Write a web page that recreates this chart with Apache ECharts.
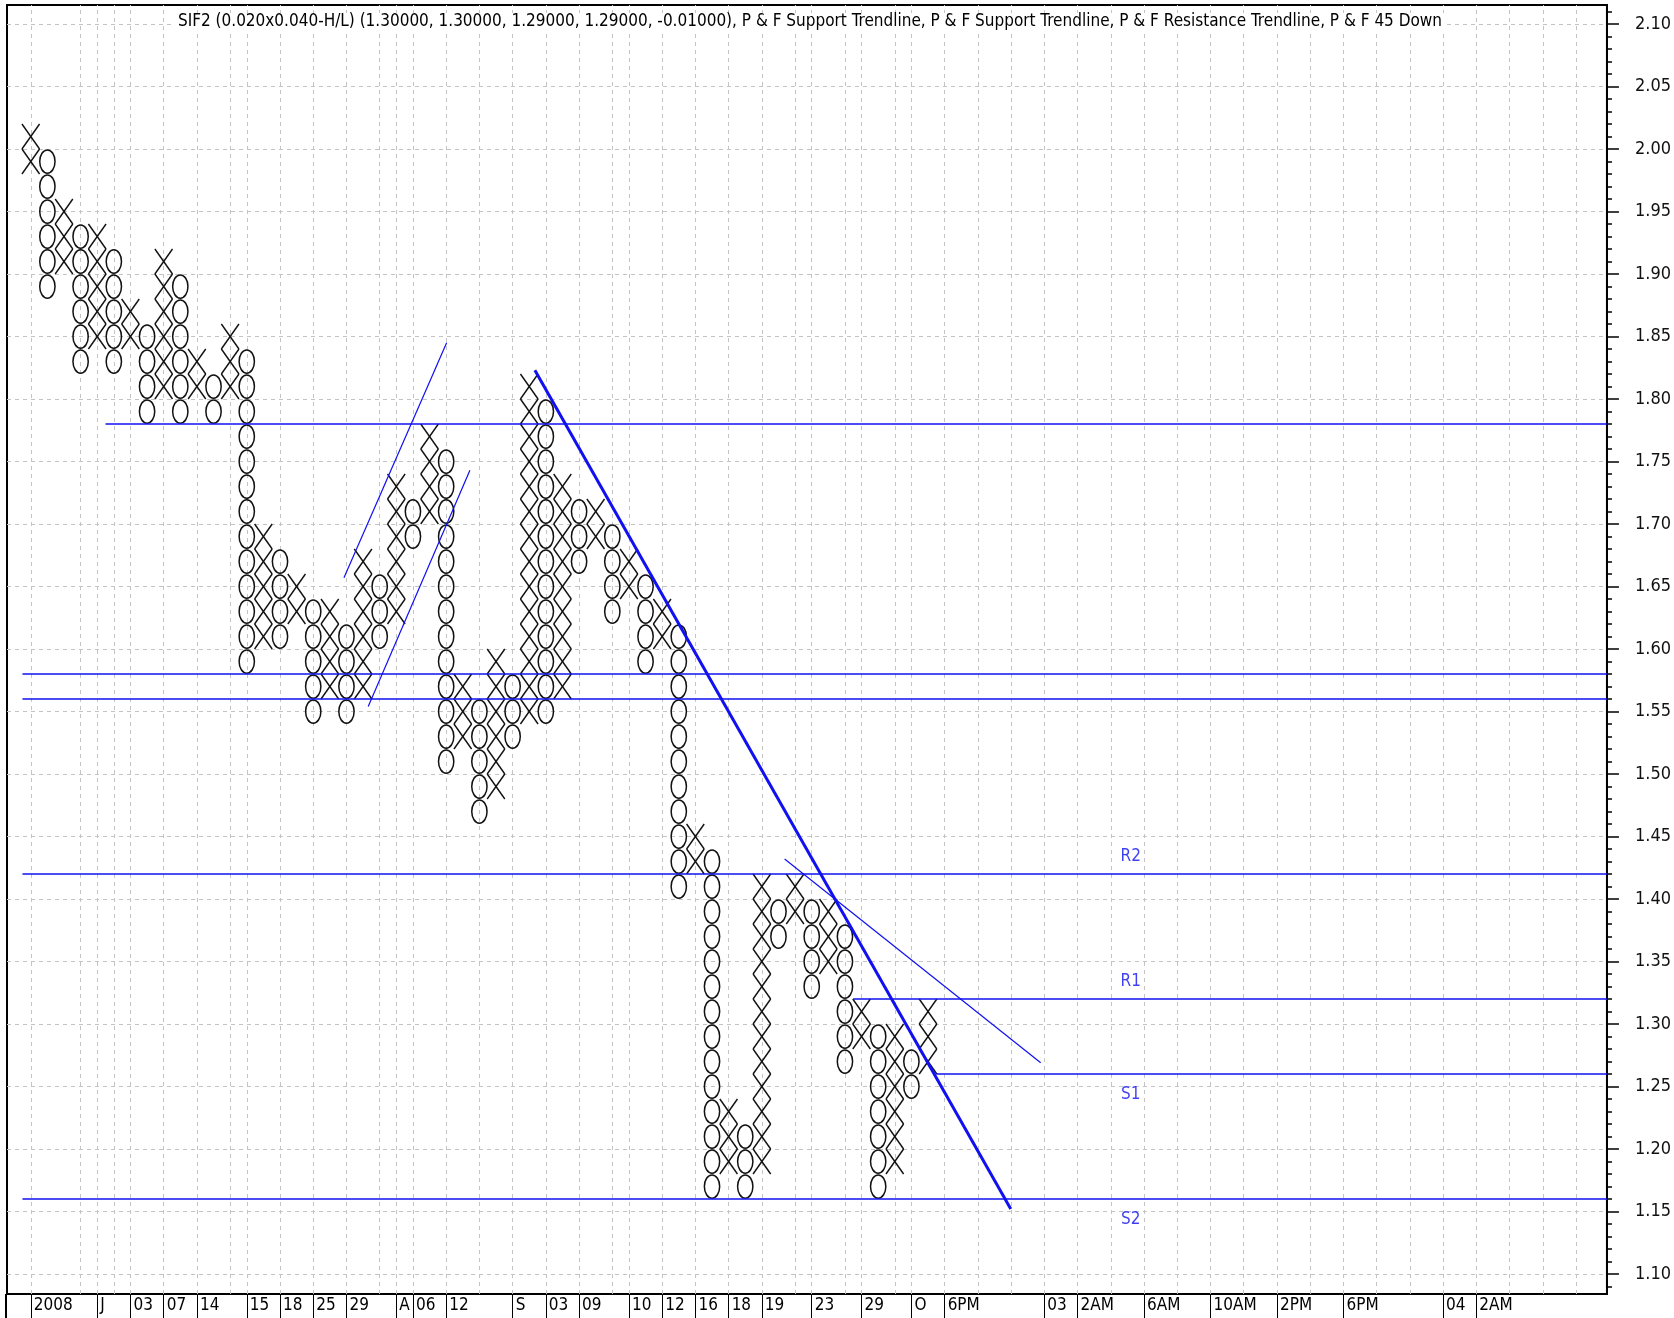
<!DOCTYPE html>
<html>
<head>
<meta charset="utf-8">
<title>SIF2 P&amp;F</title>
<script src="https://cdn.jsdelivr.net/npm/echarts@6/dist/echarts.min.js"></script>
<style>
  html, body { margin: 0; padding: 0; background: #fff; }
  #chart { width: 1674px; height: 1318px; }
</style>
</head>
<body>
<div id="chart"></div>
<script>
// P&F columns, first column is X then X / O alternate. box = 0.02
const colLow  = [1.99,1.89,1.91,1.83,1.85,1.83,1.85,1.79,1.81,1.79, 1.81,1.79,1.81,1.59,1.61,1.61,1.63,1.55,1.57,1.55,
                 1.57,1.61,1.63,1.69,1.71,1.51,1.53,1.47,1.49,1.53, 1.55,1.55,1.57,1.67,1.69,1.63,1.65,1.59,1.61,1.41,
                 1.43,1.17,1.19,1.17,1.19,1.37,1.39,1.33,1.35,1.27, 1.29,1.17,1.19,1.25,1.27];
const colHigh = [2.01,1.99,1.95,1.93,1.93,1.91,1.87,1.85,1.91,1.89, 1.83,1.81,1.85,1.83,1.69,1.67,1.65,1.63,1.63,1.61,
                 1.67,1.65,1.73,1.71,1.77,1.75,1.57,1.55,1.59,1.57, 1.81,1.79,1.73,1.71,1.71,1.69,1.67,1.65,1.63,1.61,
                 1.45,1.43,1.23,1.21,1.41,1.39,1.41,1.39,1.39,1.37, 1.31,1.29,1.29,1.27,1.31];
const boxSize = 0.02;

// x axis labels (column index -> text)
const xLabelCols = [0,4,6,8,10,13,15,17,19,22,23,25,29,31,33,36,38,40,42,44,47,50,53,55,61,63,67,71,75,79,85,87];
const xLabelText = ['2008','J','03','07','14','15','18','25','29','A','06','12','S','03','09','10','12','16','18','19',
                    '23','29','O','6PM','03','2AM','6AM','10AM','2PM','6PM','04','2AM'];
const gridCols = [0,3,4,5,6,8,10,12,13,15,17,19,21,22,23,25,27,29,31,33,35,36,38,40,42,44,46,47,49,50,52,53,
                  55,57,59,61,63,65,67,69,71,73,75,77,79,81,83,85,87,89,91,93];
const yTicks = [1.10,1.15,1.20,1.25,1.30,1.35,1.40,1.45,1.50,1.55,1.60,1.65,1.70,1.75,1.80,1.85,1.90,1.95,2.00,2.05,2.10];

// support / resistance levels
const levelValue = [1.78, 1.58, 1.56, 1.42, 1.32, 1.26, 1.16];
const levelStart = [4.5, -0.5, -0.5, -0.5, 49.5, 54.5, -0.5];
const levelName  = ['', '', '', 'R2', 'R1', 'S1', 'S2'];

// trendlines [col, price]
const trendStart = [[18.85, 1.657], [20.31, 1.554], [30.34, 1.823], [45.37, 1.432]];
const trendEnd   = [[25.03, 1.845], [26.43, 1.743], [58.98, 1.152], [60.78, 1.269]];
const trendWidth = [1.2, 1.2, 3, 1.2];

const titleText = 'SIF2 (0.020x0.040-H/L) (1.30000, 1.30000, 1.29000, 1.29000, -0.01000), P & F Support Trendline, P & F Support Trendline, P & F Resistance Trendline, P & F 45 Down';

const X_MIN = -1.43, X_MAX = 94.86;
const Y_MIN = 1.084, Y_MAX = 2.1152;
const FONT = "'DejaVu Sans Condensed', 'Liberation Sans', Arial, sans-serif";
const BLUE = '#1010f0';

// expand columns into boxes
let boxes = [];
for (let i = 0; i < colLow.length; i++) {
  const n = Math.round((colHigh[i] - colLow[i]) / boxSize);
  for (let k = 0; k <= n; k++) {
    boxes.push([i, +(colLow[i] + k * boxSize).toFixed(2), i % 2]);
  }
}

let yMinor = [];
for (let k = 109; k <= 211; k++) yMinor.push(k / 100);

const labelMap = {};
xLabelCols.forEach((c, i) => { labelMap[c] = xLabelText[i]; });

function renderBox(params, api) {
  const p = api.coord([api.value(0), api.value(1)]);
  const w = api.size([1, 0])[0];
  const h = api.size([0, boxSize])[1];
  if (api.value(2) === 1) {
    return {
      type: 'ellipse',
      shape: { cx: p[0], cy: p[1], rx: w * 0.46, ry: h * 0.465 },
      style: { fill: 'none', stroke: '#111', lineWidth: 1.5 }
    };
  }
  const hw = w * 0.53, hh = h / 2;
  return {
    type: 'group',
    children: [
      { type: 'line', shape: { x1: p[0] - hw, y1: p[1] - hh, x2: p[0] + hw, y2: p[1] + hh }, style: { stroke: '#111', lineWidth: 1.4 } },
      { type: 'line', shape: { x1: p[0] - hw, y1: p[1] + hh, x2: p[0] + hw, y2: p[1] - hh }, style: { stroke: '#111', lineWidth: 1.4 } }
    ]
  };
}

let series = [];

// dashed grid
series.push({
  type: 'line',
  data: [],
  z: 1,
  markLine: {
    z: 1,
    silent: true,
    animation: false,
    symbol: ['none', 'none'],
    label: { show: false },
    lineStyle: { type: [4, 4], color: '#c4c4c4', width: 1 },
    data: gridCols.map(c => ({ xAxis: c })).concat(yTicks.map(v => ({ yAxis: v })))
  }
});

series.push({
  type: 'custom',
  renderItem: renderBox,
  data: boxes,
  encode: { x: 0, y: 1 },
  z: 3
});

levelValue.forEach((v, i) => {
  series.push({
    type: 'line',
    data: [[levelStart[i], v], [X_MAX, v]],
    symbol: 'none',
    lineStyle: { color: BLUE, width: 1.5 },
    z: 4
  });
});

trendStart.forEach((s, i) => {
  series.push({
    type: 'line',
    data: [s, trendEnd[i]],
    symbol: 'none',
    lineStyle: { color: BLUE, width: trendWidth[i] },
    z: 4
  });
});

series.push({
  type: 'scatter',
  symbolSize: 1,
  itemStyle: { color: 'rgba(0,0,0,0)' },
  z: 5,
  data: levelValue.map((v, i) => ({ value: [66.2, v], name: levelName[i] })).filter(d => d.name),
  label: {
    show: true,
    position: 'inside',
    formatter: p => p.name,
    color: BLUE,
    fontSize: 17,
    fontFamily: FONT
  },
  labelLayout: function (p) {
    return { dy: p.text.charAt(0) === 'R' ? -17 : 21 };
  }
});

const option = {
  animation: false,
  backgroundColor: '#fff',
  title: {
    text: titleText,
    left: 807,
    top: 13,
    textAlign: 'center',
    padding: [0, 3],
    backgroundColor: '#fff',
    textStyle: { fontSize: 17, fontWeight: 'normal', color: '#000', fontFamily: FONT }
  },
  grid: {
    left: 7, right: 67, top: 5, bottom: 24,
    show: true, borderColor: '#000', borderWidth: 2, backgroundColor: '#fff'
  },
  xAxis: {
    type: 'value',
    min: X_MIN, max: X_MAX,
    axisLine: { show: true, onZero: false, lineStyle: { color: '#000', width: 2 } },
    axisTick: { show: true, customValues: xLabelCols, length: 24, inside: false, lineStyle: { color: '#000', width: 1 } },
    axisLabel: {
      customValues: xLabelCols,
      formatter: v => labelMap[Math.round(v)] || '',
      align: 'left',
      verticalAlign: 'top',
      margin: 3,
      padding: [0, 0, 0, 3],
      fontSize: 17,
      fontFamily: FONT,
      color: '#000'
    },
    splitLine: { show: false }
  },
  yAxis: [{
    type: 'value',
    position: 'right',
    min: Y_MIN, max: Y_MAX,
    axisLine: { show: true, onZero: false, lineStyle: { color: '#000', width: 2 } },
    axisTick: { show: true, customValues: yTicks, length: 12, lineStyle: { color: '#000', width: 1.5 } },
    axisLabel: {
      customValues: yTicks,
      formatter: v => v.toFixed(2),
      align: 'left',
      margin: 28,
      fontSize: 18,
      fontFamily: FONT,
      color: '#111'
    },
    splitLine: { show: false }
  }, {
    type: 'value',
    position: 'right',
    min: Y_MIN, max: Y_MAX,
    axisLine: { show: false, onZero: false },
    axisTick: { show: true, customValues: yMinor, length: 5, lineStyle: { color: '#000', width: 1.5 } },
    axisLabel: { show: false },
    splitLine: { show: false }
  }],
  graphic: [{
    type: 'rect',
    shape: { x: 5, y: 1294, width: 2, height: 24 },
    style: { fill: '#000' }
  }],
  series: series
};

const chart = echarts.init(document.getElementById('chart'), null, { renderer: 'canvas' });
chart.setOption(option);
</script>
</body>
</html>
